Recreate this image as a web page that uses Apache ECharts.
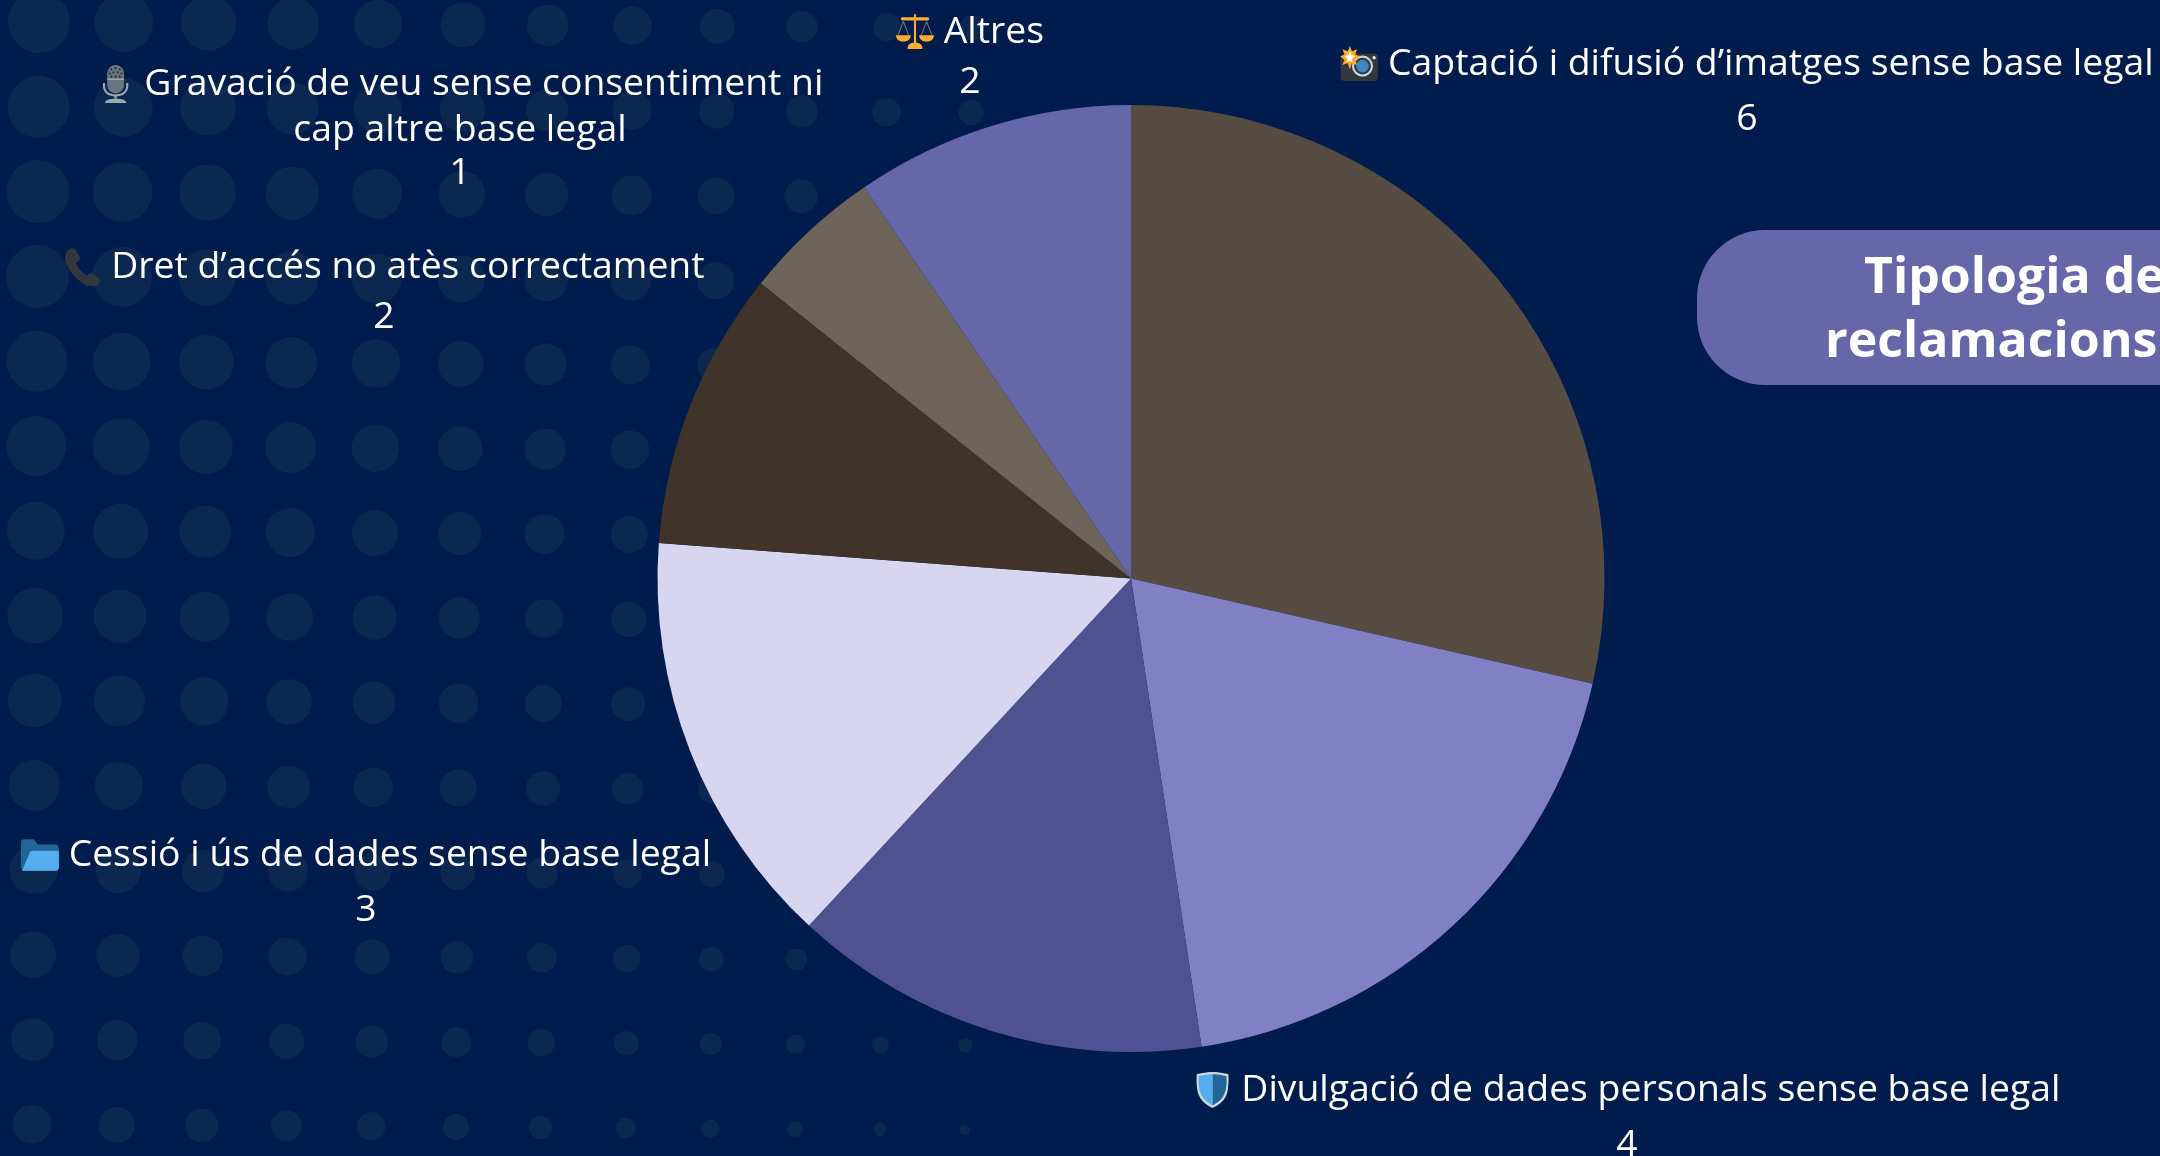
<!DOCTYPE html>
<html><head><meta charset="utf-8">
<style>html,body{margin:0;padding:0;background:#001c4c}#c{width:2160px;height:1156px}</style>
<script src="https://cdn.jsdelivr.net/npm/echarts@6/dist/echarts.min.js"></script></head>
<body><div id="c"></div>
<script>
const categories = ["Captació i difusió d’imatges sense base legal","Divulgació de dades personals sense base legal","Sense etiqueta visible","Cessió i ús de dades sense base legal","Dret d’accés no atès correctament","Gravació de veu sense consentiment ni\ncap altre base legal","Altres"];
const values = [6,4,3,3,2,1,2];
const colors = ["#564c42","#8180c4","#4f5190","#d8d5f0","#3f332a","#6e6459","#6667a8"];
const titleLines = ["Tipologia de","reclamacions"];
// label anchors: centre x, top y, value-line style
const labelPos = [[1747,41,'v64'],[1627,1067,'v64'],null,[366,832,'v64'],[384,244,'v54'],[460,61,'v40'],[970,9,'v54']];
const iconKeys = ['cam','shield',null,'folder','phone','mic','scale'];

const svg = s => 'data:image/svg+xml;charset=utf-8,'+encodeURIComponent('<svg xmlns="http://www.w3.org/2000/svg" width="72" height="72" viewBox="0 0 36 36">'+s+'</svg>');
const iconSvgs = {
  cam: svg('<path fill="#31373D" d="M4 8h28a4 4 0 0 1 4 4v18a4 4 0 0 1-4 4H4a4 4 0 0 1-4-4V12a4 4 0 0 1 4-4z"/><circle cx="21" cy="20" r="10" fill="#CCD6DD"/><circle cx="21" cy="20" r="8" fill="#31373D"/><circle cx="21" cy="20" r="6" fill="#3B88C3"/><circle cx="32" cy="12" r="1.5" fill="#fff"/><path fill="#FFAC33" d="M9 1l2 5 5-2-2 5 5 2-5 3 2 5-5-2-2 6-2-6-5 2 2-5-4-3 4-2-2-5 5 2z"/><path fill="#fff" d="M9 6l1.500 3.500 3.500 1-3 2.500.5 3.500-2.500-2-3 2 1-3.500-3-2.500 4-1z"/>'),
  shield: svg('<path fill="#CCD6DD" d="M33 3S24 1 18 1 3 3 3 3s-1 13 2 20c3 8 13 12 13 12s10-4 13-12c3-7 2-20 2-20z"/><path fill="#55ACEE" d="M18 3c-5 0-12 1.500-13 2-.5 4-.5 12 2 17 2.500 6 8 9 11 10.500z"/><path fill="#269" d="M18 3c5 0 12 1.500 13 2 .5 4 .5 12-2 17-2.500 6-8 9-11 10.500z"/>'),
  folder: svg('<path fill="#269" d="M0 29a4 4 0 0 0 4 4h28a4 4 0 0 0 4-4V12a4 4 0 0 0-4-4H16l-4-5H3a3 3 0 0 0-3 3z"/><path fill="#55ACEE" d="M11 14c-1.500 0-3 1-3 2.500L1 33h31c2 0 3.500-1 4-3V15a1 1 0 0 0-1-1z"/>'),
  phone: svg('<path fill="#31373D" d="M6 1c2-1.300 4.500-.8 6 1.500l3 5c1 2 .5 4-1 5l-2 1.500c1 4 5 9 10 12l2-1.500c1.500-1 4-1 5.500.5l4 4c1.500 2 1.500 4-.5 5.500-4 3-9 2.500-13 0C12 30 5 21 2 13 .5 8 2 3.500 6 1z"/>'),
  mic: svg('<path fill="#99AAB5" d="M6 17h2v3c0 5 4 8 10 8s10-3 10-8v-3h2v3c0 6-5 10-12 10S6 26 6 20z"/><rect x="17" y="28" width="2" height="4" fill="#99AAB5"/><path fill="#99AAB5" d="M8 36c0-3 4-4 10-4s10 1 10 4z"/><rect x="10" y="0" width="16" height="27" rx="8" fill="#66757F"/><g fill="#292F33"><circle cx="14" cy="4" r="1"/><circle cx="18" cy="3" r="1"/><circle cx="22" cy="4" r="1"/><circle cx="12.500" cy="8" r="1"/><circle cx="16" cy="7" r="1"/><circle cx="20" cy="7" r="1"/><circle cx="23.500" cy="8" r="1"/><circle cx="14" cy="11" r="1"/><circle cx="18" cy="11" r="1"/><circle cx="22" cy="11" r="1"/></g><rect x="10" y="13" width="16" height="1" fill="#AAB8C2"/>'),
  scale: svg('<path stroke="#66757F" stroke-width="1" fill="none" d="M7 8L2 21M7 8l5 13M29 8l-5 13M29 8l5 13"/><path fill="#FFAC33" d="M17 2a1 1 0 0 1 2 0v2h11a1.500 1.500 0 0 1 0 3H19v21h-2V7H6a1.500 1.500 0 0 1 0-3h11zM0 21h14c0 4-3 6-7 6s-7-2-7-6zM22 21h14c0 4-3 6-7 6s-7-2-7-6zM11 33c0-3 3-5 7-5s7 2 7 5v1H11z"/>')
};

const dots = [];
for (let j=0;j<14;j++){ const r0 = [31,31,31.5,31.5,30.5,30,29,28,27,25.5,24,23,21.5,19.3][j];
  const slope = 1.7 - 0.033*j;
  for (let i=0;i<12;i++){ dots.push({type:'circle',silent:true,z:0,
    shape:{cx:39-0.54*j+84.8*i, cy:22+84.8*j+0.53*i, r:Math.max(r0-slope*i,3)},
    style:{fill:'#0c2850'}}); } }

const chart = echarts.init(document.getElementById('c'),null,{renderer:'canvas'});
const ff = '"Open Sans",sans-serif';
const rich = {};
[['v40',40],['v54',54],['v64',64]].forEach(([k,h])=>{rich[k]={fontSize:37.33,lineHeight:h,fontFamily:ff,color:'#fff'};});
Object.keys(iconSvgs).forEach(k=>{rich[k]={width:38,height:38,lineHeight:46,backgroundColor:{image:iconSvgs[k]}};});
chart.setOption({
  backgroundColor:'#001c4c', animation:false,
  title: titleLines.map((t,i)=>({text:t,left:[1864,1825][i],top:[249,313][i],padding:0,
    textStyle:{color:'#fff',fontFamily:'"Open Sans"',fontWeight:700,fontSize:50,lineHeight:60}})),
  graphic: dots.concat([{type:'rect',silent:true,z:1,shape:{x:1697,y:230,width:560,height:155,r:68},style:{fill:'#6667a8'}}]),
  series:[{type:'pie',center:[1131,578.5],radius:[0,473.5],startAngle:90,clockwise:true,
    avoidLabelOverlap:false,silent:true,z:3,
    labelLine:{show:false},
    data:values.map((v,i)=>({value:v,name:categories[i],itemStyle:{color:colors[i]},label:{show:!!labelPos[i]}})),
    label:{position:'outside',color:'#fff',fontFamily:ff,fontSize:37.33,align:'center',verticalAlign:'top',overflow:'none',lineHeight:46,rich,
      formatter:p=>{const k=iconKeys[p.dataIndex];const lp=labelPos[p.dataIndex];
        const lines=p.name.split('\n');
        return (k?'{'+k+'|} ':'')+lines[0]+(lines[1]?'\n'+lines[1]:'')+'\n{'+(lp?lp[2]:'v54')+'|'+p.value+'}';}},
    labelLayout:p=>{const lp=labelPos[p.dataIndex];return lp?{x:lp[0],y:lp[1],align:'center',verticalAlign:'top',hideOverlap:false}:{};}
  }]
});
</script></body></html>
